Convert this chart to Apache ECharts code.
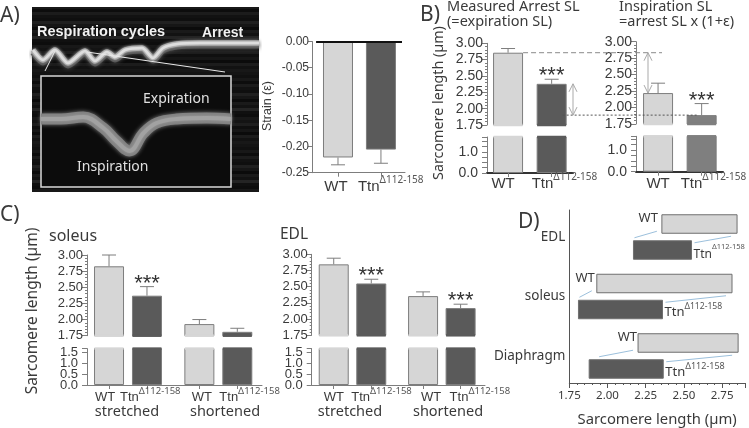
<!DOCTYPE html>
<html><head><meta charset="utf-8">
<style>html,body{margin:0;padding:0;background:#fff}#c{width:749px;height:428px}</style>
<script src="https://cdn.jsdelivr.net/npm/echarts@6/dist/echarts.min.js"></script>
</head><body><div id="c"></div>
<script>
// ---------- data ----------
const barNames = ['WT', 'Ttn'];
const supText = 'Δ112-158';
const strainMean = [-0.221, -0.206];
const strainErrEnd = [-0.235, -0.232];
const arrestMean = [2.856, 2.38];
const arrestErrEnd = [2.92, 2.45];
const inspMean = [2.22, 1.885];
const inspErrEnd = [2.37, 2.06];
const soleusMean = [2.825, 2.37, 1.93, 1.81];
const soleusErrEnd = [3.0, 2.51, 2.0, 1.865];
const edlMean = [2.845, 2.55, 2.355, 2.17];
const edlErrEnd = [2.94, 2.615, 2.42, 2.23];
const rangeMuscles = ['EDL', 'soleus', 'Diaphragm'];
const rangeWTStart = [2.356, 1.93, 2.2];
const rangeWTEnd = [2.848, 2.815, 2.855];
const rangeTtnStart = [2.17, 1.81, 1.88];
const rangeTtnEnd = [2.55, 2.36, 2.365];
// sample trace seen in the micrograph (time, position)
const traceTime = [1,11,23,36,53,63,75,83,93,110,121,131,145,168,227];
const tracePos = [43,53,43,56,44,54,45,50,43,41,51,41,37,36,36];
const insetTime = [0,20,42,62,75,88,102,115,135,165,189];
const insetPos = [43,43,41,52,65,75,57,47,43,42,43];

// ---------- style ----------
const WT_C = '#d6d6d6', TTN_C = '#5a5a5a', TTN_C2 = '#7f7f7f', EDGE = '#7d7d7d';
const SANS = '"Liberation Sans"', NOTO = '"Noto Sans"', TXT = '#3a3a3a';
const grid = [], xAxis = [], yAxis = [], series = [];
const SLOTS2 = [1, 2], SLOTS4 = [1, 2, 3.38, 4.38];

function addGrid(o) { grid.push(Object.assign({ outerBoundsMode: 'none' }, o)); }
function xTickAxis(g, min, max, slots, o) {
  return {
    type: 'value', gridIndex: g, min, max, position: 'bottom',
    splitLine: { show: false },
    axisLine: { onZero: false, lineStyle: { color: o.lineColor || EDGE, width: o.lineWidth || 1 } },
    axisTick: { customValues: slots, length: 4, lineStyle: { color: EDGE } },
    axisLabel: { show: false }
  };
}
// bar names under the axis; o.shift moves each label relative to its tick
function addBarNames(g, slots, o, yAt) {
  series.push({
    type: 'custom', xAxisIndex: g, yAxisIndex: g, clip: false, silent: true, z: 6,
    encode: { x: 0, y: 1 },
    data: slots.map((s, i) => [s, yAt, i]),
    renderItem: (p, api) => {
      const i = api.value(2), c = api.coord([api.value(0), api.value(1)]);
      if (i % 2 === 0) return { type: 'text', x: c[0] + o.shift[i], y: c[1] + o.dy,
        style: { text: barNames[0], font: o.fs + 'px ' + SANS, fill: TXT, align: 'center', verticalAlign: 'middle' } };
      return { type: 'text', x: c[0] + o.shift[i], y: c[1] + o.dy - 2, style: {
        text: '{m|' + barNames[1] + '}{s|' + supText + '}', align: 'left', verticalAlign: 'middle',
        rich: { m: { font: o.fs + 'px ' + SANS, fill: TXT, verticalAlign: 'bottom', lineHeight: o.fs + 4 },
                s: { font: o.supFs + 'px ' + NOTO, fill: '#555', verticalAlign: 'top', lineHeight: o.fs + 4 } } } };
    }
  });
}
function addBars(g, slots, mean, err, colors, stars, starDy, maskEdge) {
  series.push({
    type: 'bar', xAxisIndex: g, yAxisIndex: g, barWidth: 30, clip: true, silent: true,
    data: mean.map((v, i) => ({ value: [slots[i], v], itemStyle: { color: colors[i % 2], borderColor: EDGE, borderWidth: 1 } }))
  });
  if (maskEdge !== undefined) series.push({
    type: 'custom', xAxisIndex: g, yAxisIndex: g, clip: false, silent: true, z: 4,
    encode: { x: 0, y: 1 },
    data: mean.map((v, i) => [slots[i], maskEdge, i % 2]),
    renderItem: (p, api) => {
      const c = api.coord([api.value(0), api.value(1)]);
      return { type: 'line', shape: { x1: c[0] - 14.5, y1: c[1], x2: c[0] + 14.5, y2: c[1] },
        style: { stroke: colors[api.value(2)], lineWidth: 2.5, fill: null } };
    }
  });
  if (err) series.push({
    type: 'custom', xAxisIndex: g, yAxisIndex: g, clip: false, silent: true, z: 1,
    encode: { x: 0, y: [1, 2] },
    data: mean.map((v, i) => [slots[i], v, err[i]]),
    renderItem: (p, api) => {
      const a = api.coord([api.value(0), api.value(1)]), b = api.coord([api.value(0), api.value(2)]);
      const st = { stroke: EDGE, lineWidth: 1, fill: null };
      return { type: 'group', children: [
        { type: 'line', shape: { x1: a[0], y1: a[1], x2: b[0], y2: b[1] }, style: st },
        { type: 'line', shape: { x1: b[0] - 7, y1: b[1], x2: b[0] + 7, y2: b[1] }, style: st }
      ] };
    }
  });
  if (stars && stars.length) series.push({
    type: 'custom', xAxisIndex: g, yAxisIndex: g, clip: false, silent: true, z: 5,
    encode: { x: 0, y: 1 },
    data: stars.map(i => [slots[i], err[i]]),
    renderItem: (p, api) => {
      const c = api.coord([api.value(0), api.value(1)]);
      return { type: 'text', x: c[0], y: c[1] + starDy, style: { text: '***', font: '22px ' + SANS, fill: '#333', align: 'center', verticalAlign: 'bottom' } };
    }
  });
}
function broken(o) {
  const gu = grid.length;
  addGrid({ left: o.left, width: o.width, top: o.upTop, height: o.upH });
  xAxis.push({ type: 'value', gridIndex: gu, min: o.min, max: o.max, show: false });
  yAxis.push({
    type: 'value', gridIndex: gu, min: 1.75, max: 3, interval: 0.25, splitLine: { show: false },
    axisLine: { show: true, onZero: false, lineStyle: { color: EDGE } },
    axisTick: { show: true, length: 5, lineStyle: { color: EDGE } },
    minorTick: { show: true, splitNumber: 5, length: 2, lineStyle: { color: EDGE } },
    axisLabel: { fontFamily: SANS, fontSize: o.yFs, color: TXT, margin: 4, hideOverlap: false, showMinLabel: true, showMaxLabel: true, formatter: v => v.toFixed(2) }
  });
  addBars(gu, o.slots, o.mean, o.err, o.colors, o.stars, o.starDy, 1.75);
  const gl = grid.length;
  addGrid({ left: o.left, width: o.width, top: o.base - o.lowH, height: o.lowH });
  xAxis.push(xTickAxis(gl, o.min, o.max, o.slots, o.x));
  yAxis.push({
    type: 'value', gridIndex: gl, min: 0, max: o.lowMax, splitLine: { show: false },
    axisLine: { show: true, onZero: false, lineStyle: { color: EDGE } },
    axisTick: { show: true, customValues: o.lowTicks, length: 5, lineStyle: { color: EDGE } },
    axisLabel: { show: false }
  });
  // the reference's lower tick labels touch each other, so they are drawn without the axis's overlap removal
  series.push({
    type: 'custom', xAxisIndex: gl, yAxisIndex: gl, clip: false, silent: true, z: 6,
    encode: { x: 0, y: 1 },
    data: o.lowLabels.map(v => [o.min, v]),
    renderItem: (p, api) => {
      const c = api.coord([api.value(0), api.value(1)]);
      return { type: 'text', x: c[0] - 9, y: c[1], style: { text: api.value(1).toFixed(1), font: o.yFs + 'px ' + SANS, fill: TXT, align: 'right', verticalAlign: 'middle' } };
    }
  });
  addBars(gl, o.slots, o.mean, null, o.colors, null, 0, o.lowMax);
  addBarNames(gl, o.slots, o.x, 0);
}

// ---------- panel A micrograph ----------
function traceGrid(left, top, w, h, maxT, maxP) {
  const g = grid.length;
  addGrid({ left, top, width: w, height: h });
  xAxis.push({ type: 'value', gridIndex: g, min: 0, max: maxT, show: false });
  yAxis.push({ type: 'value', gridIndex: g, min: 0, max: maxP, inverse: true, show: false });
  return g;
}
function trace(g, t, p, width, color, smooth, blur) {
  series.push({ type: 'line', xAxisIndex: g, yAxisIndex: g, data: t.map((x, i) => [x, p[i]]), showSymbol: false, smooth, silent: true, clip: true,
    lineStyle: { color, width, join: 'round', shadowBlur: blur || 0, shadowColor: color }, z: 3 });
}
const gImg = traceGrid(32, 7, 227, 185, 227, 185);
trace(gImg, traceTime, tracePos.map(v => v + 2.5), 6, '#555555', 0.25, 4);
trace(gImg, traceTime, tracePos, 5.5, '#a4a4a4', 0.25, 3);
trace(gImg, traceTime, tracePos, 2.5, '#dedede', 0.25, 2);
const gIns = traceGrid(41, 76, 190, 111, 189, 111);
trace(gIns, insetTime, insetPos, 11, '#828282', 0.4, 4);
trace(gIns, insetTime, insetPos, 4, '#a2a2a2', 0.4, 3);

// ---------- panel A bars ----------
{
  const g = grid.length;
  addGrid({ left: 312, width: 93, top: 41.5, height: 131.2 });
  const ax = { fs: 15, supFs: 10, dy: 14, shift: [-2, -23] };
  xAxis.push(xTickAxis(g, 0.395, 2.56, SLOTS2, ax));
  yAxis.push({
    type: 'value', gridIndex: g, min: -0.25, max: 0, interval: 0.05, splitLine: { show: false },
    axisLine: { show: true, onZero: false, lineStyle: { color: EDGE } },
    axisTick: { show: true, length: 4, lineStyle: { color: EDGE } },
    axisLabel: { fontFamily: SANS, fontSize: 12, color: TXT, margin: 3, hideOverlap: false, showMinLabel: true, showMaxLabel: true, formatter: v => v.toFixed(2) }
  });
  addBars(g, SLOTS2, strainMean, strainErrEnd, [WT_C, TTN_C]);
  series[series.length - 2].markLine = { silent: true, symbol: 'none', label: { show: false }, animation: false,
    lineStyle: { color: '#111', width: 2, type: 'solid' }, data: [[{ coord: [0.49, 0] }, { coord: [2.49, 0] }]] };
  addBarNames(g, SLOTS2, ax, -0.25);
}

// ---------- panel B ----------
const gB1 = grid.length;
broken({ left: 487, width: 86, upTop: 43.3, upH: 81.7, min: 0.517, max: 2.49, slots: SLOTS2, mean: arrestMean, err: arrestErrEnd,
  colors: [WT_C, TTN_C], stars: [1], starDy: 8, yFs: 14, base: 173, lowH: 36, lowMax: 1.71, lowTicks: [0, .25, .5, .75, 1, 1.25, 1.5, 1.71], lowLabels: [0, 1],
  x: { fs: 15, supFs: 10, dy: 11, shift: [-5, -20], lineColor: '#333', lineWidth: 2 } });
const gB2 = grid.length;
broken({ left: 636, width: 87, upTop: 41.7, upH: 82.3, min: 0.494, max: 2.49, slots: SLOTS2, mean: inspMean, err: inspErrEnd,
  colors: [WT_C, TTN_C2], stars: [1], starDy: 8, yFs: 14, base: 171.7, lowH: 35.4, lowMax: 1.63, lowTicks: [0, .25, .5, .75, 1, 1.25, 1.5, 1.63], lowLabels: [0, 1],
  x: { fs: 15, supFs: 10, dy: 12, shift: [0, -21], lineColor: '#333', lineWidth: 2 } });

// ---------- panel C ----------
broken({ left: 87, width: 175, upTop: 255, upH: 80.7, min: 0.42, max: 5.03, slots: SLOTS4, mean: soleusMean, err: soleusErrEnd,
  colors: [WT_C, TTN_C], stars: [1], starDy: 8, yFs: 13, base: 385, lowH: 36.4, lowMax: 1.67, lowTicks: [0, .5, 1, 1.5, 1.67], lowLabels: [0, .5, 1, 1.5],
  x: { fs: 13, supFs: 9.5, dy: 12, shift: [-4, -27, 2.5, -18] } });
broken({ left: 311.7, width: 173.3, upTop: 254.3, upH: 81, min: 0.413, max: 5.03, slots: SLOTS4, mean: edlMean, err: edlErrEnd,
  colors: [WT_C, TTN_C], stars: [1, 3], starDy: 8, yFs: 13, base: 385, lowH: 36.4, lowMax: 1.67, lowTicks: [0, .5, 1, 1.5, 1.67], lowLabels: [0, .5, 1, 1.5],
  x: { fs: 13, supFs: 9.5, dy: 12, shift: [0, -20, 8, -11] } });

// ---------- panel D ----------
{
  const g = grid.length;
  addGrid({ left: 569.3, width: 175.7, top: 210, height: 173 });
  const slots = rangeMuscles.map((m, i) => i);
  xAxis.push({
    type: 'value', gridIndex: g, min: 1.75, max: 2.9, interval: 0.25, position: 'bottom', splitLine: { show: false },
    axisLine: { onZero: false, lineStyle: { color: '#555' } },
    axisTick: { length: 5, lineStyle: { color: '#555' } },
    minorTick: { show: true, splitNumber: 5, length: 2, lineStyle: { color: '#555' } },
    axisLabel: { fontFamily: NOTO, fontSize: 11.5, color: TXT, margin: 7, showMinLabel: true, showMaxLabel: false, formatter: v => v.toFixed(2) },
    name: 'Sarcomere length (µm)', nameLocation: 'middle', nameGap: 29, nameTextStyle: { fontFamily: NOTO, fontSize: 14.8, color: TXT }
  });
  yAxis.push({
    type: 'value', gridIndex: g, inverse: true, min: -0.454, max: 2.454, splitLine: { show: false },
    axisLine: { show: true, onZero: false, lineStyle: { color: '#555' } },
    axisTick: { show: false },
    axisLabel: { customValues: slots, margin: 4, fontFamily: NOTO, fontSize: 13.5, color: TXT, formatter: v => rangeMuscles[v] }
  });
  series.push({
    type: 'custom', xAxisIndex: g, yAxisIndex: g, silent: true, clip: false,
    encode: { x: [1, 2, 3, 4], y: 0 },
    data: rangeMuscles.map((m, i) => [i, rangeWTStart[i], rangeWTEnd[i], rangeTtnStart[i], rangeTtnEnd[i]]),
    renderItem: (p, api) => {
      const y = api.value(0), at = v => api.coord([v, y]);
      const cy = at(2)[1], h = 18.5;
      const wtTop = cy - 13 - h / 2, tnTop = cy + 13 - h / 2;
      const a = at(api.value(1))[0], b = at(api.value(2))[0], c = at(api.value(3))[0], d = at(api.value(4))[0];
      const blue = { stroke: '#9cc0dc', lineWidth: 1, fill: null };
      const wtGap = [4, 2, 1][y], tnDy = [-2, -3, -2][y];
      const mFs = [12, 13, 13][y], sFs = [7.5, 8.6, 9][y];
      return { type: 'group', children: [
        { type: 'line', shape: { x1: c + [1, 1, 10][y], y1: tnTop - 3, x2: a - 5, y2: wtTop + h - 2 }, style: blue },
        { type: 'line', shape: { x1: d + 3, y1: tnTop + 2, x2: b - 6, y2: wtTop + h + 3 }, style: blue },
        { type: 'rect', shape: { x: a, y: wtTop, width: b - a, height: h }, style: { fill: WT_C, stroke: '#6f6f6f', lineWidth: 1 } },
        { type: 'rect', shape: { x: c, y: tnTop, width: d - c, height: h }, style: { fill: TTN_C, stroke: '#6f6f6f', lineWidth: 1 } },
        { type: 'text', x: a - wtGap, y: wtTop + 4, style: { text: barNames[0], font: '13px ' + NOTO, fill: TXT, align: 'right', verticalAlign: 'middle' } },
        { type: 'text', x: d + 2, y: tnTop + 13 + tnDy, style: { text: '{m|' + barNames[1] + '}{s|' + supText + '}', align: 'left', verticalAlign: 'middle',
            rich: { m: { font: mFs + 'px ' + NOTO, fill: TXT, verticalAlign: 'bottom', lineHeight: 17 }, s: { font: sFs + 'px ' + NOTO, fill: '#555', verticalAlign: 'top', lineHeight: 17 } } } }
      ] };
    }
  });
}

// ---------- static decoration & text ----------
const stripeLevels = [20,16,24,13,28,18,15,32,22,11,26,18,36,16,13,24,20,30,15,22,11,28,18,24];
const cv = document.createElement('canvas'); cv.width = 8; cv.height = stripeLevels.length * 3;
{ const x = cv.getContext('2d'); stripeLevels.forEach((v, i) => { x.fillStyle = `rgb(${v},${v},${v})`; x.fillRect(0, i * 3, 8, 3); }); }
function t(text, x, y, size, o = {}) {
  return { type: 'text', x, y, z: 100, rotation: o.rot || 0, silent: true,
    style: { text, font: (o.bold ? 'bold ' : '') + size + 'px ' + (o.fam || NOTO), fill: o.fill || TXT, align: o.align || 'left', verticalAlign: 'middle' } };
}
const staticGraphic = [
  { type: 'rect', z: 0, silent: true, shape: { x: 32, y: 7, width: 227, height: 185 }, style: { fill: { image: cv, repeat: 'repeat' } } },
  { type: 'rect', z: 1, silent: true, shape: { x: 41, y: 76, width: 190, height: 111 }, style: { fill: '#0c0c0c', stroke: '#d8d8d8', lineWidth: 1.5 } },
  { type: 'line', z: 100, silent: true, shape: { x1: 45, y1: 71, x2: 55, y2: 51 }, style: { stroke: '#e8e8e8', lineWidth: 1 } },
  { type: 'line', z: 100, silent: true, shape: { x1: 87, y1: 52, x2: 225, y2: 72 }, style: { stroke: '#e8e8e8', lineWidth: 1 } },
  t('A)', 0, 16, 21), t('B)', 420, 15, 21), t('C)', 0, 215, 21), t('D)', 518, 222, 21),
  t('Respiration cycles', 37, 32, 14.5, { bold: true, fam: SANS, fill: '#f2f2f2' }),
  t('Arrest', 202, 33, 14, { bold: true, fam: SANS, fill: '#f2f2f2' }),
  t('Expiration', 143, 99, 14, { fill: '#e0e0e0' }),
  t('Inspiration', 77, 167, 14, { fill: '#e0e0e0' }),
  t('Strain (ε)', 268, 106, 12.5, { rot: Math.PI / 2, align: 'center', fam: SANS }),
  t('Sarcomere length (µm)', 439, 103, 14.3, { rot: Math.PI / 2, align: 'center' }),
  t('Sarcomere length (µm)', 33, 311, 15.5, { rot: Math.PI / 2, align: 'center' }),
  t('Measured Arrest SL', 447, 7, 14.5), t('(=expiration SL)', 447, 22, 14.5),
  t('Inspiration SL', 619, 7, 14.5), t('=arrest SL x (1+ε)', 619, 22, 14.5),
  t('soleus', 49, 236, 16), t('EDL', 280, 235, 15.5),
  t('stretched', 127, 412, 14.5, { align: 'center' }), t('shortened', 225, 412, 14.5, { align: 'center' }),
  t('stretched', 350, 412, 14.5, { align: 'center' }), t('shortened', 448, 412, 14.5, { align: 'center' })
];

const chart = echarts.init(document.getElementById('c'), null, { renderer: 'canvas' });
const base = { animation: false, backgroundColor: '#fff', grid, xAxis, yAxis, series, graphic: staticGraphic };
chart.setOption(base);

// reference lines and arrows tied to the bars through the axes
const px = (g, x, y) => chart.convertToPixel({ gridIndex: g }, [x, y]);
function dblArrow(x, y0, y1) {
  const s = { stroke: '#a9a9a9', lineWidth: 1, fill: null };
  return [
    { type: 'line', z: 90, shape: { x1: x, y1: y0, x2: x, y2: y1 }, style: s },
    { type: 'polyline', z: 90, shape: { points: [[x - 4, y0 + 8], [x, y0], [x + 4, y0 + 8]] }, style: s },
    { type: 'polyline', z: 90, shape: { points: [[x - 4, y1 - 8], [x, y1], [x + 4, y1 - 8]] }, style: s }
  ];
}
const yArrest = px(gB1, 1, arrestMean[0])[1], yArrestT = px(gB1, 2, arrestMean[1])[1];
const yInsp = px(gB2, 1, inspMean[0])[1], yInspT = px(gB2, 2, inspMean[1])[1];
const xB1R = px(gB1, 1, 2)[0] + 15, xB2T = px(gB2, 2, 2)[0];
chart.setOption({ graphic: staticGraphic.concat(
  [{ type: 'line', z: 90, shape: { x1: xB1R, y1: yArrest, x2: 662, y2: yArrest }, style: { stroke: '#8a8a8a', lineWidth: 1, lineDash: [5, 3] } },
   { type: 'line', z: 90, shape: { x1: px(gB1, 2, 2)[0] + 11, y1: yInspT, x2: xB2T - 4, y2: yInspT }, style: { stroke: '#555', lineWidth: 1, lineDash: [2, 2] } }],
  dblArrow(573, yArrestT, yInspT), dblArrow(648, yArrest, yInsp)
) }, { replaceMerge: ['graphic'] });
</script></body></html>
